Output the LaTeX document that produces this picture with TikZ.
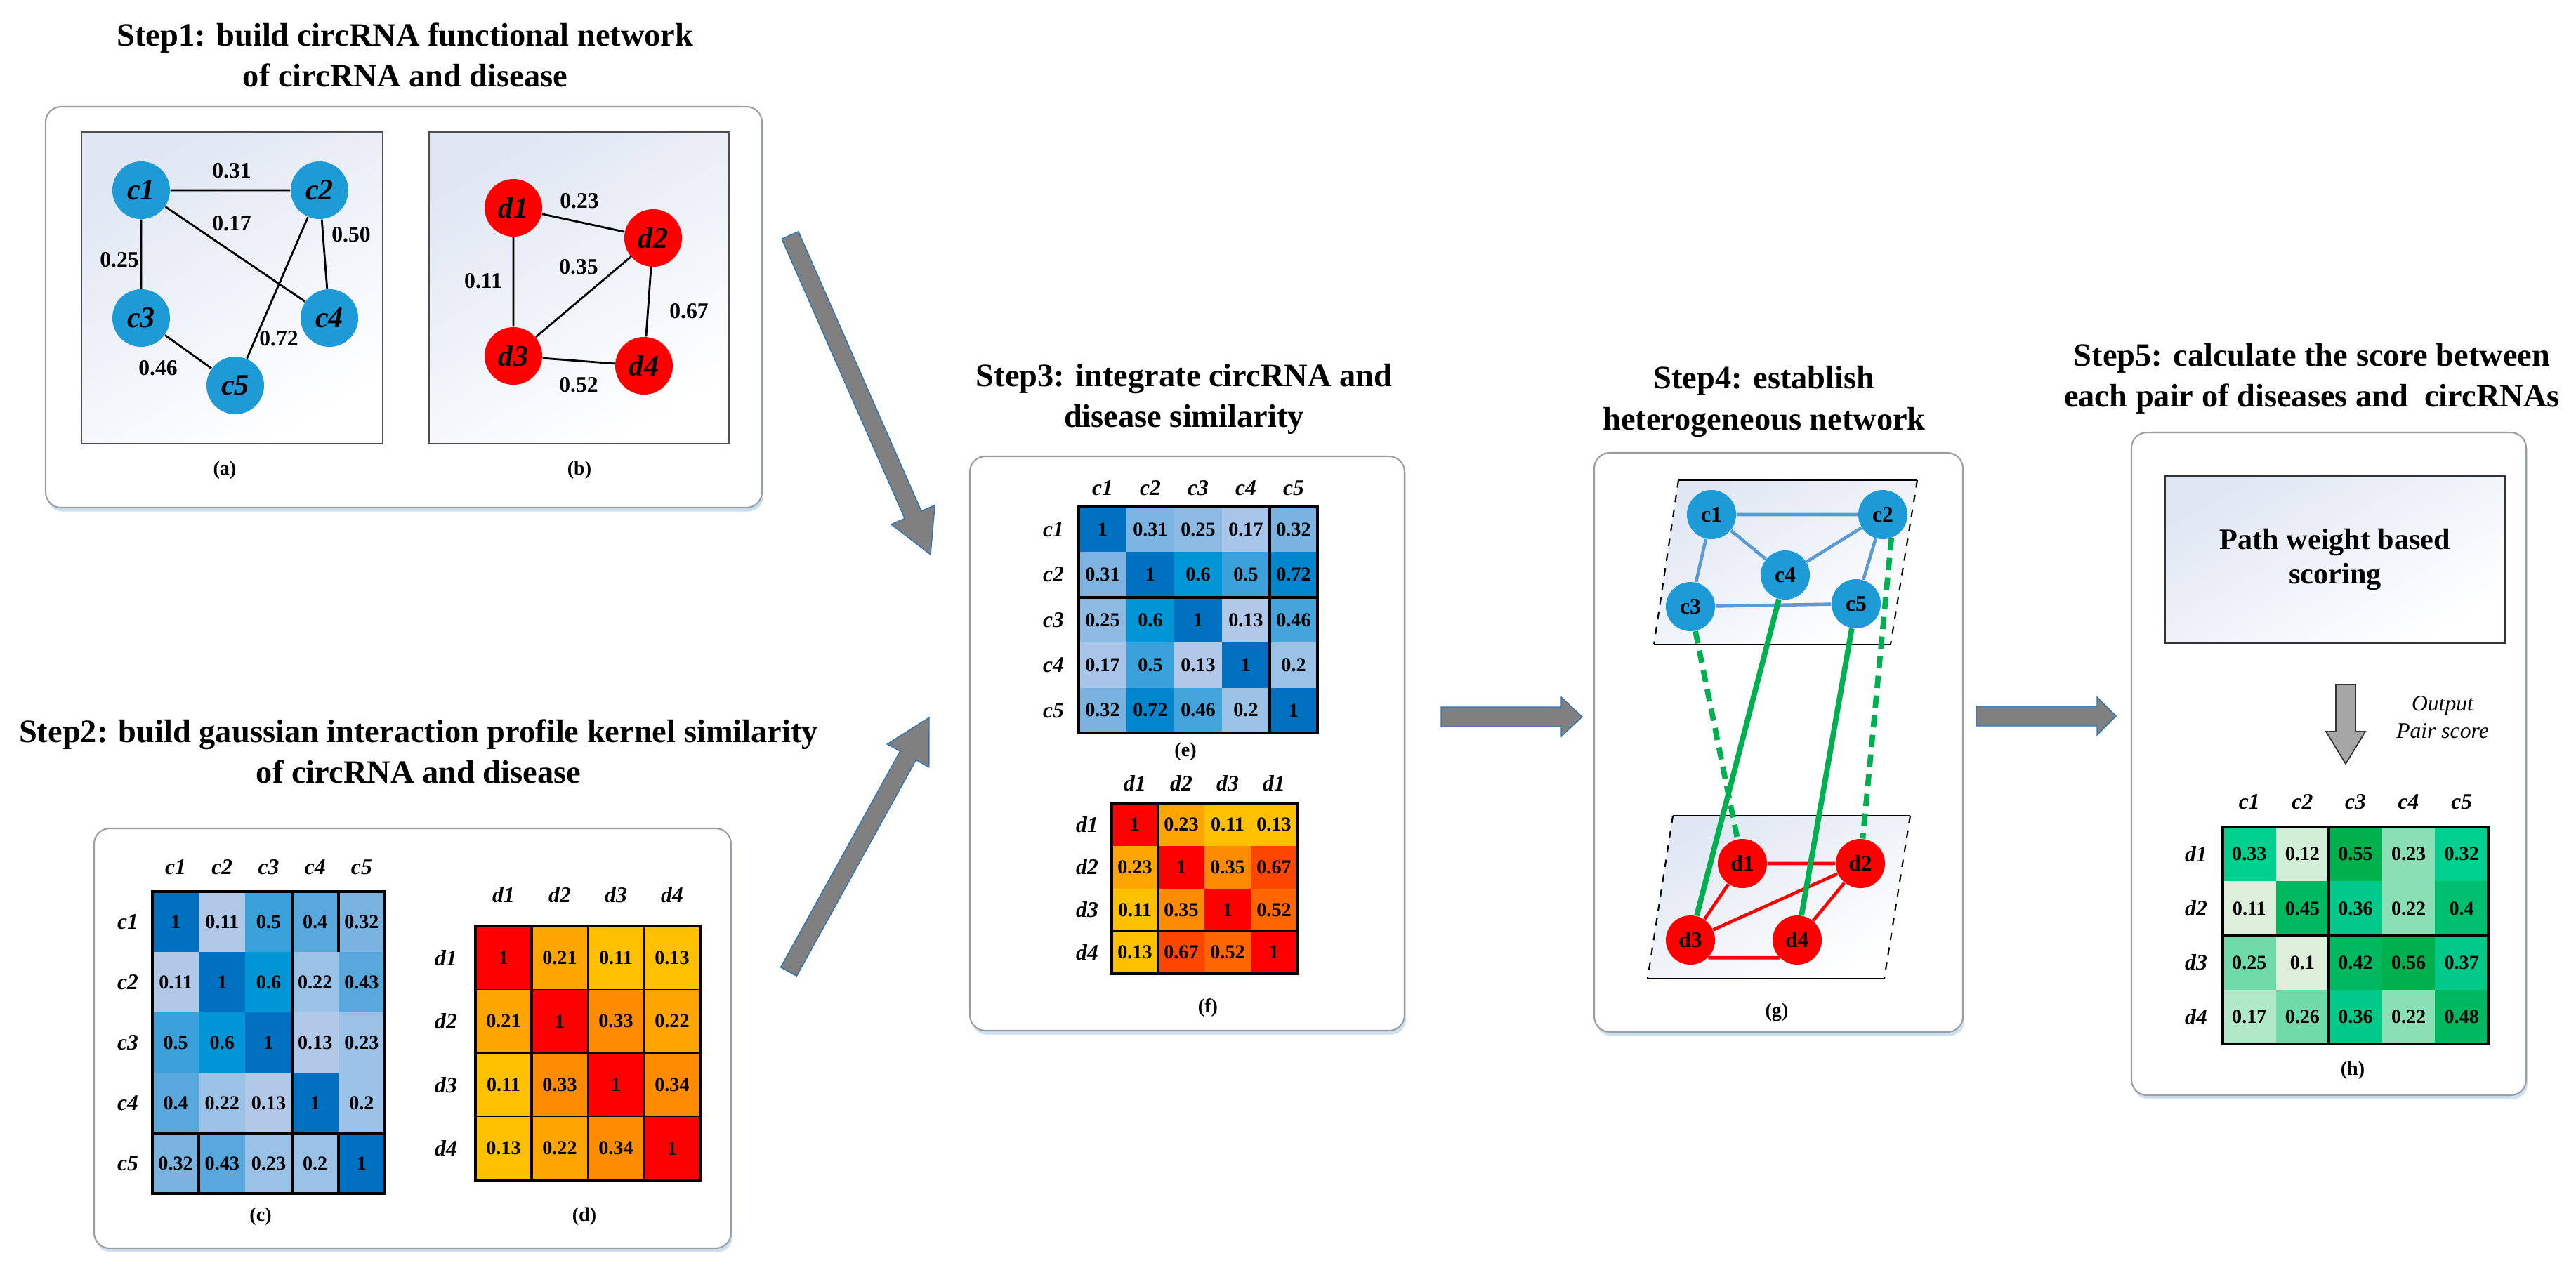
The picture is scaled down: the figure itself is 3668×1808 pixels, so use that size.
\documentclass[tikz,border=0pt]{standalone}
\usepackage{fontspec}
\setmainfont{Liberation Serif}
\usetikzlibrary{calc,shadows}

\definecolor{nodeblue}{HTML}{1E9AD6}
\definecolor{linkblue}{HTML}{5B9BD5}
\definecolor{linkgreen}{HTML}{00B050}
\definecolor{bgtop}{HTML}{E0E7F3}
\definecolor{arrowgray}{HTML}{808080}
\definecolor{arrowedge}{HTML}{2E75B6}
\definecolor{shadowblue}{HTML}{BDD7EE}
\definecolor{B10}{HTML}{0070C0}
\definecolor{B72}{HTML}{0086CC}
\definecolor{B60}{HTML}{0096D6}
\definecolor{B50}{HTML}{3BA1DA}
\definecolor{B46}{HTML}{45A4DB}
\definecolor{B40}{HTML}{58A8DE}
\definecolor{B32}{HTML}{7AB2E0}
\definecolor{B31}{HTML}{7DB3E0}
\definecolor{B25}{HTML}{8CBAE3}
\definecolor{B22}{HTML}{9AC1E6}
\definecolor{B17}{HTML}{A6C5E8}
\definecolor{B11}{HTML}{B1C8E9}
\definecolor{R1}{HTML}{FF0000}
\definecolor{O6}{HTML}{FF4500}
\definecolor{O5}{HTML}{FF6600}
\definecolor{O3}{HTML}{FF8C00}
\definecolor{O2}{HTML}{FFA500}
\definecolor{Y1}{HTML}{FFC000}
\definecolor{G55}{HTML}{00B04C}
\definecolor{G45}{HTML}{00B860}
\definecolor{G40}{HTML}{00C070}
\definecolor{G36}{HTML}{00C98A}
\definecolor{G33}{HTML}{00D08F}
\definecolor{G25}{HTML}{70DAA8}
\definecolor{G22}{HTML}{8ADFB4}
\definecolor{G17}{HTML}{B0E8C8}
\definecolor{G12}{HTML}{D3EED7}
\definecolor{G11}{HTML}{DDEFD9}

% heatmap: name, x0, y0, cell w, cell h, rows
\newcommand\heatmap[6]{%
  \foreach \rowlist [count=\ri] in {#6}{%
    \foreach \val/\cc [count=\ci] in \rowlist{%
      \fill[\cc] ({#2+(\ci-1)*#4},{#3+(\ri-1)*#5}) rectangle ++(#4,#5);
      \node[cellnum] (#1-\ri-\ci) at ({#2+(\ci-0.5)*#4},{#3+(\ri-0.5)*#5}) {\val};
    }}}
% fat arrow: style, from, to, shaft half width, head half width, head length
\newcommand\fatarrow[6]{%
  \coordinate (fa-b) at ($(#3)!#6!(#2)$);
  \path[#1] ($(#2)!#4!90:(#3)$) -- ($(fa-b)!#4!90:(#3)$) -- ($(fa-b)!#5!90:(#3)$)
    -- (#3) -- ($(fa-b)!#5!-90:(#3)$) -- ($(fa-b)!#4!-90:(#3)$) -- ($(#2)!#4!-90:(#3)$) -- cycle;}

\begin{document}
\begin{tikzpicture}[x=0.01cm,y=-0.01cm,
  title/.style={align=center,font=\fontsize{13.2}{16.5}\selectfont\bfseries,inner sep=0},
  outerbox/.style={draw=black!38,line width=0.6pt,rounded corners=0.22cm,fill=white,
    drop shadow={shadow xshift=0.6pt,shadow yshift=-1.6pt,fill=shadowblue,opacity=0.8}},
  innerbox/.style={draw=black!70,line width=0.6pt,top color=bgtop,bottom color=white,shading angle=30},
  cnode/.style={circle,fill=nodeblue,minimum size=0.82cm,inner sep=0,font=\fontsize{12}{12}\selectfont\bfseries\itshape},
  dnode/.style={circle,fill=red,minimum size=0.82cm,inner sep=0,font=\fontsize{12}{12}\selectfont\bfseries\itshape},
  gcnode/.style={circle,fill=nodeblue,minimum size=0.70cm,inner sep=0,font=\fontsize{9}{9}\selectfont\bfseries},
  gdnode/.style={circle,fill=red,minimum size=0.70cm,inner sep=0,font=\fontsize{9}{9}\selectfont\bfseries},
  edge/.style={draw=black,line width=0.8pt},
  elabel/.style={font=\fontsize{9}{9}\selectfont\bfseries,inner sep=0},
  cellnum/.style={font=\fontsize{8}{8}\selectfont\bfseries,inner sep=0},
  hdr/.style={font=\fontsize{9}{9}\selectfont\bfseries\itshape,inner sep=0},
  sublabel/.style={font=\fontsize{8}{8}\selectfont\bfseries,inner sep=0},
  grid/.style={draw=black,line width=1.1pt},
  thingrid/.style={draw=black,line width=0.5pt},
  bluelink/.style={draw=linkblue,line width=1.3pt},
  redlink/.style={draw=red,line width=1.3pt},
  greenlink/.style={draw=linkgreen,line width=2.2pt},
  greendash/.style={draw=linkgreen,line width=2.2pt,dash pattern=on 5pt off 3pt},
  sidedash/.style={draw=black,line width=0.6pt,dashed},
  bigarrow/.style={fill=arrowgray,draw=arrowedge,line width=0.4pt},
  downarrow/.style={fill=black!35,draw=black!80,line width=0.5pt}
]
\useasboundingbox (0,0) rectangle (3668,1808);

% ---------------- Step 1 ----------------
\node[title] (t1) at (577,78) {Step1: build circRNA functional network\\of circRNA and disease};
\draw[outerbox] (65,152) rectangle (1085,723);
\path[innerbox] (116,188) rectangle (545,632);
\path[innerbox] (611,188) rectangle (1038,632);
\node[cnode] (a1) at (201,271) {c1};
\node[cnode] (a2) at (455,271) {c2};
\node[cnode] (a3) at (201,453) {c3};
\node[cnode] (a4) at (469,453) {c4};
\node[cnode] (a5) at (335,549) {c5};
\draw[edge] (a1)--(a2) (a1)--(a4) (a2)--(a4) (a1)--(a3) (a2)--(a5) (a3)--(a5);
\node[elabel] (la1) at (330,243) {0.31};
\node[elabel] (la2) at (330,318) {0.17};
\node[elabel] (la3) at (500,334) {0.50};
\node[elabel] (la4) at (170,370) {0.25};
\node[elabel] (la5) at (397,482) {0.72};
\node[elabel] (la6) at (225,524) {0.46};
\node[dnode] (b1) at (731,296) {d1};
\node[dnode] (b2) at (930,339) {d2};
\node[dnode] (b3) at (731,507) {d3};
\node[dnode] (b4) at (917,521) {d4};
\draw[edge] (b1)--(b2) (b1)--(b3) (b2)--(b3) (b2)--(b4) (b3)--(b4);
\node[elabel] (lb1) at (825,286) {0.23};
\node[elabel] (lb2) at (824,380) {0.35};
\node[elabel] (lb3) at (688,400) {0.11};
\node[elabel] (lb4) at (981,443) {0.67};
\node[elabel] (lb5) at (824,548) {0.52};
\node[sublabel] (sa) at (320,670) {(a)};
\node[sublabel] (sb) at (825,670) {(b)};

% ---------------- Step 2 ----------------
\node[title] (t2) at (596,1070) {Step2: build gaussian interaction profile kernel similarity\\of circRNA and disease};
\draw[outerbox] (134,1180) rectangle (1041,1778);
% (c)
\heatmap{mc}{217}{1270}{66.2}{86}{%
 {1/B10,0.11/B11,0.5/B50,0.4/B40,0.32/B32},
 {0.11/B11,1/B10,0.6/B60,0.22/B22,0.43/B40},
 {0.5/B50,0.6/B60,1/B10,0.13/B11,0.23/B22},
 {0.4/B40,0.22/B22,0.13/B11,1/B10,0.2/B22},
 {0.32/B32,0.43/B40,0.23/B22,0.2/B22,1/B10}}
\foreach \h [count=\ci] in {c1,c2,c3,c4,c5}{
  \node[hdr] (mch-\ci) at ({217+(\ci-0.5)*66.2},1235) {\h};
  \node[hdr] (mcr-\ci) at (182,{1270+(\ci-0.5)*86}) {\h};}
\draw[grid] (217,1270) rectangle (548,1700);
\draw[grid] (415.6,1270) -- (415.6,1700) (217,1614) -- (548,1614)
  (481.8,1270) -- (481.8,1356) (481.8,1614) -- (481.8,1700) (283.2,1614) -- (283.2,1700);
\node[sublabel] (sc) at (371,1733) {(c)};
% (d)
\heatmap{md}{677}{1319}{80}{90.5}{%
 {1/R1,0.21/O2,0.11/Y1,0.13/Y1},
 {0.21/O2,1/R1,0.33/O3,0.22/O2},
 {0.11/Y1,0.33/O3,1/R1,0.34/O3},
 {0.13/Y1,0.22/O2,0.34/O3,1/R1}}
\foreach \h [count=\ci] in {d1,d2,d3,d4}{
  \node[hdr] (mdh-\ci) at ({677+(\ci-0.5)*80},1275) {\h};
  \node[hdr] (mdr-\ci) at (635,{1319+(\ci-0.5)*90.5}) {\h};}
\foreach \k in {1,2,3}{
  \draw[thingrid] ({677+\k*80},1319) -- ({677+\k*80},1681);
  \draw[thingrid] (677,{1319+\k*90.5}) -- (997,{1319+\k*90.5});}
\draw[grid] (677,1319) rectangle (997,1681);
\draw[grid] (757,1319) -- (757,1681);
\node[sublabel] (sd) at (832,1733) {(d)};

% ---------------- Step 3 ----------------
\node[title] (t3) at (1686,568) {Step3: integrate circRNA and\\disease similarity};
\draw[outerbox] (1381,650) rectangle (2000,1468);
\heatmap{me}{1536}{722}{68}{64.4}{%
 {1/B10,0.31/B31,0.25/B25,0.17/B17,0.32/B32},
 {0.31/B31,1/B10,0.6/B60,0.5/B50,0.72/B72},
 {0.25/B25,0.6/B60,1/B10,0.13/B11,0.46/B46},
 {0.17/B17,0.5/B50,0.13/B11,1/B10,0.2/B22},
 {0.32/B32,0.72/B72,0.46/B46,0.2/B22,1/B10}}
\foreach \h [count=\ci] in {c1,c2,c3,c4,c5}{
  \node[hdr] (meh-\ci) at ({1536+(\ci-0.5)*68},695) {\h};
  \node[hdr] (mer-\ci) at (1500,{722+(\ci-0.5)*64.4}) {\h};}
\draw[grid] (1536,722) rectangle (1876,1044);
\draw[grid] (1808,722) -- (1808,1044) (1536,850.8) -- (1876,850.8);
\node[sublabel] (se) at (1688,1071) {(e)};
\heatmap{mf}{1583}{1144}{66}{60.75}{%
 {1/R1,0.23/O2,0.11/Y1,0.13/Y1},
 {0.23/O2,1/R1,0.35/O3,0.67/O6},
 {0.11/Y1,0.35/O3,1/R1,0.52/O5},
 {0.13/Y1,0.67/O6,0.52/O5,1/R1}}
\foreach \h [count=\ci] in {d1,d2,d3,d1}{
  \node[hdr] (mfh-\ci) at ({1583+(\ci-0.5)*66},1116) {\h};}
\foreach \h [count=\ci] in {d1,d2,d3,d4}{
  \node[hdr] (mfr-\ci) at (1548,{1144+(\ci-0.5)*60.75}) {\h};}
\draw[grid] (1583,1144) rectangle (1847,1387);
\draw[grid] (1649,1144) -- (1649,1387) (1583,1326.25) -- (1847,1326.25);
\node[sublabel] (sf) at (1720,1436) {(f)};

% ---------------- Step 4 ----------------
\node[title] (t4) at (2512,572) {Step4: establish\\heterogeneous network};
\draw[outerbox] (2270,645) rectangle (2795,1470);
\path[top color=bgtop,bottom color=white,shading angle=30] (2390,684) -- (2730,684) -- (2692,918) -- (2355,918) -- cycle;
\draw[line width=0.8pt] (2390,684) -- (2730,684) (2355,918) -- (2692,918);
\draw[sidedash] (2390,684) -- (2355,918) (2730,684) -- (2692,918);
\path[top color=bgtop,bottom color=white,shading angle=30] (2382,1162) -- (2720,1162) -- (2683,1394) -- (2346,1394) -- cycle;
\draw[line width=0.8pt] (2382,1162) -- (2720,1162) (2346,1394) -- (2683,1394);
\draw[sidedash] (2382,1162) -- (2346,1394) (2720,1162) -- (2683,1394);
\node[gcnode] (gc1) at (2437,733) {c1};
\node[gcnode] (gc2) at (2681,733) {c2};
\node[gcnode] (gc3) at (2407,864) {c3};
\node[gcnode] (gc4) at (2542,819) {c4};
\node[gcnode] (gc5) at (2643,860) {c5};
\draw[bluelink] (gc1)--(gc2) (gc1)--(gc4) (gc1)--(gc3) (gc4)--(gc2) (gc2)--(gc5) (gc3)--(gc5);
\node[gdnode] (gd1) at (2481,1230) {d1};
\node[gdnode] (gd2) at (2649,1230) {d2};
\node[gdnode] (gd3) at (2407,1339) {d3};
\node[gdnode] (gd4) at (2559,1339) {d4};
\draw[redlink] (gd1)--(gd2) (gd1)--(gd3) (gd3)--(gd2) (gd2)--(gd4) (gd3.-45)--(gd4.-135);
\draw[greendash] (gc3)--(gd1);
\draw[greendash] (gc2.-70)--(gd2);
\draw[greenlink] (gc4)--(gd3);
\draw[greenlink] (gc5)--(gd4);
\node[sublabel] (sg) at (2530,1442) {(g)};

% ---------------- Step 5 ----------------
\node[title] (t5) at (3292,539) {Step5: calculate the score between\\each pair of diseases and \ circRNAs};
\draw[outerbox] (3035,616) rectangle (3597,1560);
\node[draw=black!80,line width=0.6pt,top color=bgtop,bottom color=white,shading angle=30,
  minimum width=4.83cm,minimum height=2.38cm,align=center,
  font=\fontsize{12}{14}\selectfont\bfseries] (pw) at (3325,797) {Path weight based\\scoring};
\coordinate (da0) at (3340,975);
\coordinate (da1) at (3340,1088);
\fatarrow{downarrow}{da0}{da1}{0.14cm}{0.28cm}{0.46cm}
\node[align=center,font=\fontsize{9}{11}\selectfont\itshape,inner sep=0] (out) at (3478,1022) {Output\\Pair score};
\heatmap{mh}{3165}{1178}{75.6}{77.25}{%
 {0.33/G33,0.12/G12,0.55/G55,0.23/G22,0.32/G33},
 {0.11/G11,0.45/G45,0.36/G36,0.22/G22,0.4/G40},
 {0.25/G25,0.1/G11,0.42/G45,0.56/G55,0.37/G36},
 {0.17/G17,0.26/G25,0.36/G36,0.22/G22,0.48/G45}}
\foreach \h [count=\ci] in {c1,c2,c3,c4,c5}{
  \node[hdr] (mhh-\ci) at ({3165+(\ci-0.5)*75.6},1142) {\h};}
\foreach \h [count=\ci] in {d1,d2,d3,d4}{
  \node[hdr] (mhr-\ci) at (3127,{1178+(\ci-0.5)*77.25}) {\h};}
\draw[grid] (3165,1178) rectangle (3543,1487);
\draw[grid] (3316.2,1178) -- (3316.2,1487) (3165,1332.5) -- (3543,1332.5);
\node[sublabel] (sh) at (3350,1525) {(h)};

% ---------------- big arrows ----------------
\coordinate (a1s) at (1125,335);
\coordinate (a1e) at (1325,790);
\fatarrow{bigarrow}{a1s}{a1e}{0.13cm}{0.34cm}{0.62cm}
\coordinate (a2s) at (1123,1384);
\coordinate (a2e) at (1323,1022);
\fatarrow{bigarrow}{a2s}{a2e}{0.13cm}{0.34cm}{0.62cm}
\coordinate (a3s) at (2052,1021);
\coordinate (a3e) at (2253,1021);
\fatarrow{bigarrow}{a3s}{a3e}{0.14cm}{0.28cm}{0.3cm}
\coordinate (a4s) at (2814,1020);
\coordinate (a4e) at (3013,1020);
\fatarrow{bigarrow}{a4s}{a4e}{0.14cm}{0.27cm}{0.27cm}
\end{tikzpicture}
\end{document}
